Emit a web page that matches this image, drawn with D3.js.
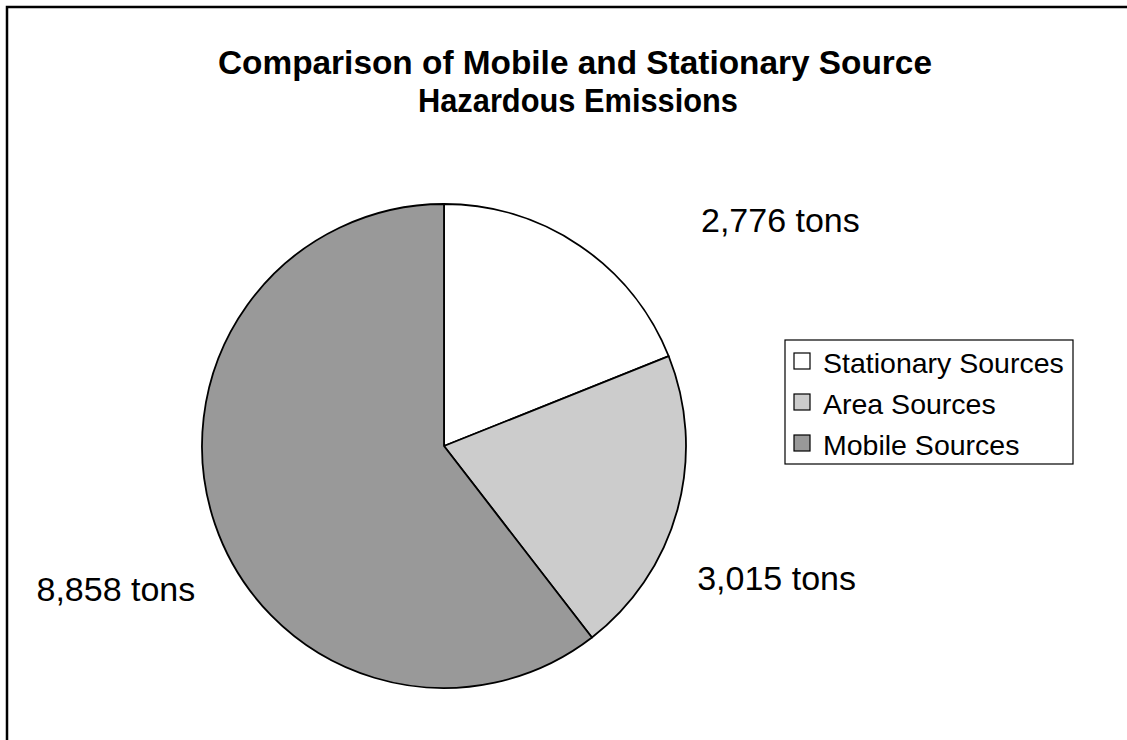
<!DOCTYPE html>
<style>
    body { margin: 0; background: #fff; }
    svg { display: block; font-family: "Liberation Sans", Arial, sans-serif; }
</style>
<svg width="1127" height="740"></svg>
<script src="https://d3js.org/d3.v7.min.js"></script>
<script>
    // data
    var categories = ["Stationary Sources", "Area Sources", "Mobile Sources"];
    var tons = [2776, 3015, 8858];
    var labels = ["2,776 tons", "3,015 tons", "8,858 tons"];
    var titleLines = ["Comparison of Mobile and Stationary Source", "Hazardous Emissions"];

    var svg = d3.select("svg"),
        cx = 444,
        cy = 446,
        radius = 242;

    var color = d3.scaleOrdinal()
        .domain(categories)
        .range(["#ffffff", "#cccccc", "#999999"]);

    // chart frame (only top and left edges show)
    svg.append("path")
        .attr("d", "M7,740V7H1127")
        .attr("fill", "none")
        .attr("stroke", "#000")
        .attr("stroke-width", 2.5);

    // title
    svg.append("text")
        .attr("x", 575).attr("y", 74)
        .attr("text-anchor", "middle")
        .attr("font-size", 34).attr("font-weight", "bold")
        .attr("textLength", 714).attr("lengthAdjust", "spacingAndGlyphs")
        .text(titleLines[0]);
    svg.append("text")
        .attr("x", 578).attr("y", 112)
        .attr("text-anchor", "middle")
        .attr("font-size", 34).attr("font-weight", "bold")
        .attr("textLength", 320).attr("lengthAdjust", "spacingAndGlyphs")
        .text(titleLines[1]);

    var pie = d3.pie().sort(null).value(function (d) { return d; });
    var arc = d3.arc().innerRadius(0).outerRadius(radius);
    var arcs = pie(tons);

    var g = svg.append("g").attr("transform", "translate(" + cx + "," + cy + ")");

    g.selectAll("path")
        .data(arcs)
        .enter().append("path")
        .attr("d", arc)
        .attr("fill", function (d, i) { return color(categories[i]); })
        .attr("stroke", "#000")
        .attr("stroke-width", 1.8)
        .attr("stroke-linejoin", "round");

    // slice labels, placed outside the pie
    var labelArc = d3.arc().innerRadius(radius + 110).outerRadius(radius + 110);
    var labelOffsets = [[139, 77], [-7, 51], [5, 41]];
    g.selectAll(".lbl")
        .data(arcs)
        .enter().append("text")
        .attr("class", "lbl")
        .attr("font-size", 34)
        .attr("text-anchor", "middle")
        .attr("x", function (d, i) { return labelArc.centroid(d)[0] + labelOffsets[i][0]; })
        .attr("y", function (d, i) { return labelArc.centroid(d)[1] + labelOffsets[i][1]; })
        .text(function (d, i) { return labels[i]; });

    // legend
    var legend = svg.append("g").attr("transform", "translate(785,340)");
    legend.append("rect")
        .attr("width", 288).attr("height", 124)
        .attr("fill", "#fff").attr("stroke", "#000").attr("stroke-width", 1.2);
    var rows = legend.selectAll(".row")
        .data(categories)
        .enter().append("g")
        .attr("transform", function (d, i) { return "translate(9," + (13 + i * 41) + ")"; });
    rows.append("rect")
        .attr("width", 16).attr("height", 16)
        .attr("fill", function (d) { return color(d); })
        .attr("stroke", "#000").attr("stroke-width", 1.2);
    rows.append("text")
        .attr("x", 29).attr("y", 20)
        .attr("font-size", 28.5)
        .text(function (d) { return d; });
</script>
